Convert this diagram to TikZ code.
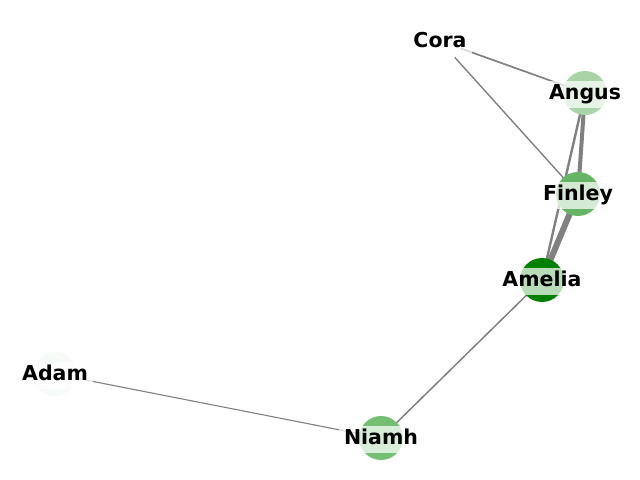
\documentclass[tikz,border=0pt]{standalone}
\usepackage{fontspec}
\setmainfont{DejaVu Sans}
\begin{document}
\begin{tikzpicture}[x=1bp,y=-1bp,
  dot/.style={circle,minimum size=44bp,inner sep=0pt},
  lbl/.style={fill=white,fill opacity=0.72,text opacity=1,inner xsep=5bp,inner ysep=4bp,
    text height=15bp,text depth=4.5bp,yshift=-1.5bp,font=\fontsize{20.5bp}{24bp}\selectfont\bfseries},
  edge/.style={draw=gray,line cap=butt}]
\useasboundingbox (0,0) rectangle (640,480);
\definecolor{cCora}{HTML}{FFFFFF}
\definecolor{cAngus}{HTML}{A8D4A8}
\definecolor{cFinley}{HTML}{66B566}
\definecolor{cAmelia}{HTML}{008000}
\definecolor{cAdam}{HTML}{F7FBF7}
\definecolor{cNiamh}{HTML}{74BF74}
\coordinate (Cora) at (440,41);
\coordinate (Angus) at (585,93);
\coordinate (Finley) at (578,194);
\coordinate (Amelia) at (542,280);
\coordinate (Adam) at (55,374);
\coordinate (Niamh) at (381,438);
% edges
\draw[edge,line width=1.7bp] (Cora) -- (Angus);
\draw[edge,line width=1.4bp] (Cora) -- (Finley);
\draw[edge,line width=4bp] (Angus) -- (Finley);
\draw[edge,line width=2.4bp] (Angus) -- (Amelia);
\draw[edge,line width=6bp] (Finley) -- (Amelia);
\draw[edge,line width=1.5bp] (Amelia) -- (Niamh);
\draw[edge,line width=1.1bp] (Adam) -- (Niamh);
% nodes
\node[dot,fill=cCora] (nCora) at (Cora) {};
\node[dot,fill=cAngus] (nAngus) at (Angus) {};
\node[dot,fill=cFinley] (nFinley) at (Finley) {};
\node[dot,fill=cAmelia] (nAmelia) at (Amelia) {};
\node[dot,fill=cAdam] (nAdam) at (Adam) {};
\node[dot,fill=cNiamh] (nNiamh) at (Niamh) {};
% labels
\node[lbl] (lCora) at (Cora) {Cora};
\node[lbl] (lAngus) at (Angus) {Angus};
\node[lbl] (lFinley) at (Finley) {Finley};
\node[lbl] (lAmelia) at (Amelia) {Amelia};
\node[lbl] (lAdam) at (Adam) {Adam};
\node[lbl] (lNiamh) at (Niamh) {Niamh};
\end{tikzpicture}
\end{document}
